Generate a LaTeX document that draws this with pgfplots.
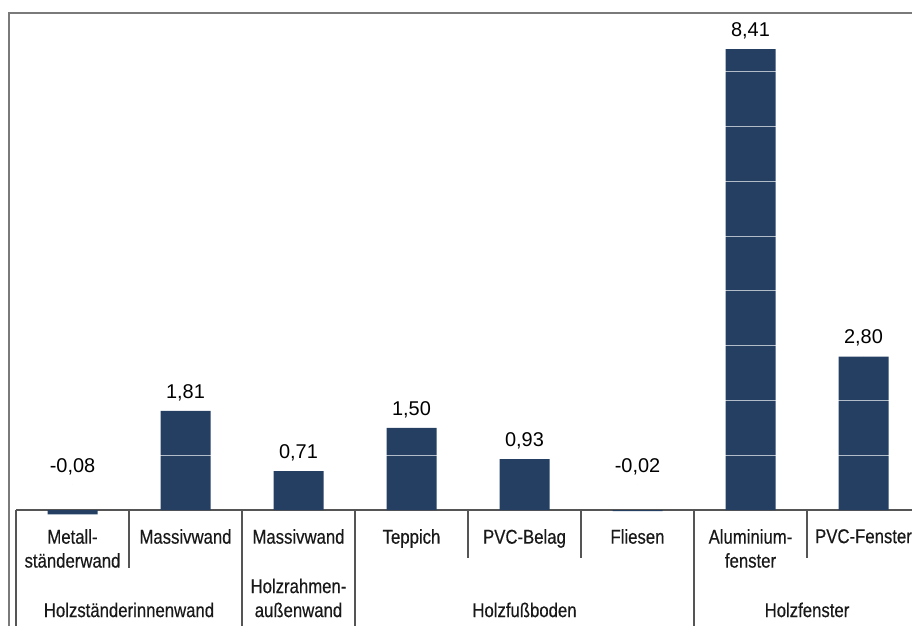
\documentclass[border=0pt]{standalone}
\usepackage{pgfplots}
\pgfplotsset{compat=1.18}
\usepackage{fontspec}
\setmainfont{Liberation Sans}
\newfontfamily\catfamily[FakeStretch=0.84,FakeBold=0.4]{Liberation Sans}
\newcommand\catfont{\catfamily\fontsize{20}{24}\selectfont}
\newcommand\valfont{\fontsize{20}{24}\selectfont}
\definecolor{barblue}{HTML}{243F62}
\definecolor{linegray}{HTML}{555555}
\definecolor{framegray}{HTML}{7A7A7A}
\begin{document}
\begin{tikzpicture}
\begin{axis}[
 name=ax, scale only axis, width=904bp, height=613.2bp,
 xmin=-0.5, xmax=7.5, ymin=-2.12, ymax=9.07,
 axis x line=middle, axis y line=none,
 axis line style={-, draw=linegray, line width=1.3bp},
 xtick={0,...,7},
 xticklabels={{Metall-\\ständerwand},Massivwand,Massivwand,Teppich,PVC-Belag,Fliesen,{Aluminium-\\fenster},PVC-Fenster},
 xticklabel style={font=\catfont, align=center, anchor=north, inner sep=0pt, yshift=-19bp, text=black!90},
 major tick length=0pt,
 hide obscured x ticks=false,
 ytick=\empty,
 clip=false,
]
\addplot[ybar, bar width=50bp, bar shift=0pt, fill=barblue, draw=none] coordinates {(0,-0.08) (1,1.81) (2,0.71) (3,1.50) (4,0.93) (5,-0.02) (6,8.41) (7,2.80)};
\pgfplotsinvokeforeach{1,...,9}{\draw[white, opacity=0.65, line width=1bp] (axis cs:-0.5,#1) -- (axis cs:7.5,#1);}
\addplot[only marks, mark=*, mark size=0pt, mark options={draw=none,fill=none}, nodes near coords, point meta=explicit symbolic, every node near coord/.append style={anchor=south, inner sep=0pt, yshift=10bp, font=\valfont, text=black}] table[meta=lab]{
x y lab
0 0.46 -0,08
1 1.81 1,81
2 0.71 0,71
3 1.50 1,50
4 0.93 0,93
5 0.46 -0,02
6 8.41 8,41
7 2.80 2,80
};
\draw[linegray, line width=1.3bp] (axis cs:-0.5,0) -- (axis cs:-0.5,-2.12);
\draw[linegray, line width=1.3bp] (axis cs:0.5,0) -- (axis cs:0.5,-1.06);
\draw[linegray, line width=1.3bp] (axis cs:1.5,0) -- (axis cs:1.5,-2.12);
\draw[linegray, line width=1.3bp] (axis cs:2.5,0) -- (axis cs:2.5,-2.12);
\draw[linegray, line width=1.3bp] (axis cs:3.5,0) -- (axis cs:3.5,-0.876);
\draw[linegray, line width=1.3bp] (axis cs:4.5,0) -- (axis cs:4.5,-0.876);
\draw[linegray, line width=1.3bp] (axis cs:5.5,0) -- (axis cs:5.5,-2.12);
\draw[linegray, line width=1.3bp] (axis cs:6.5,0) -- (axis cs:6.5,-0.876);
\node[font=\catfont, anchor=base, text=black!90] at (axis cs:0.5,-1.953) {Holzständerinnenwand};
\node[font=\catfont, anchor=base, text=black!90] at (axis cs:2,-1.515) {Holzrahmen-};
\node[font=\catfont, anchor=base, text=black!90] at (axis cs:2,-1.953) {außenwand};
\node[font=\catfont, anchor=base, text=black!90] at (axis cs:4,-1.953) {Holzfußboden};
\node[font=\catfont, anchor=base, text=black!90] at (axis cs:6.5,-1.953) {Holzfenster};
\draw[framegray, line width=2bp] ([xshift=-7bp]rel axis cs:0,0) -- ([xshift=-7bp]rel axis cs:0,1) -- ([xshift=10bp]rel axis cs:1,1);
\end{axis}
\pgfresetboundingbox
\useasboundingbox ([xshift=-16bp]ax.south west) rectangle ([xshift=896bp,yshift=13bp]ax.north west);
\end{tikzpicture}
\end{document}
